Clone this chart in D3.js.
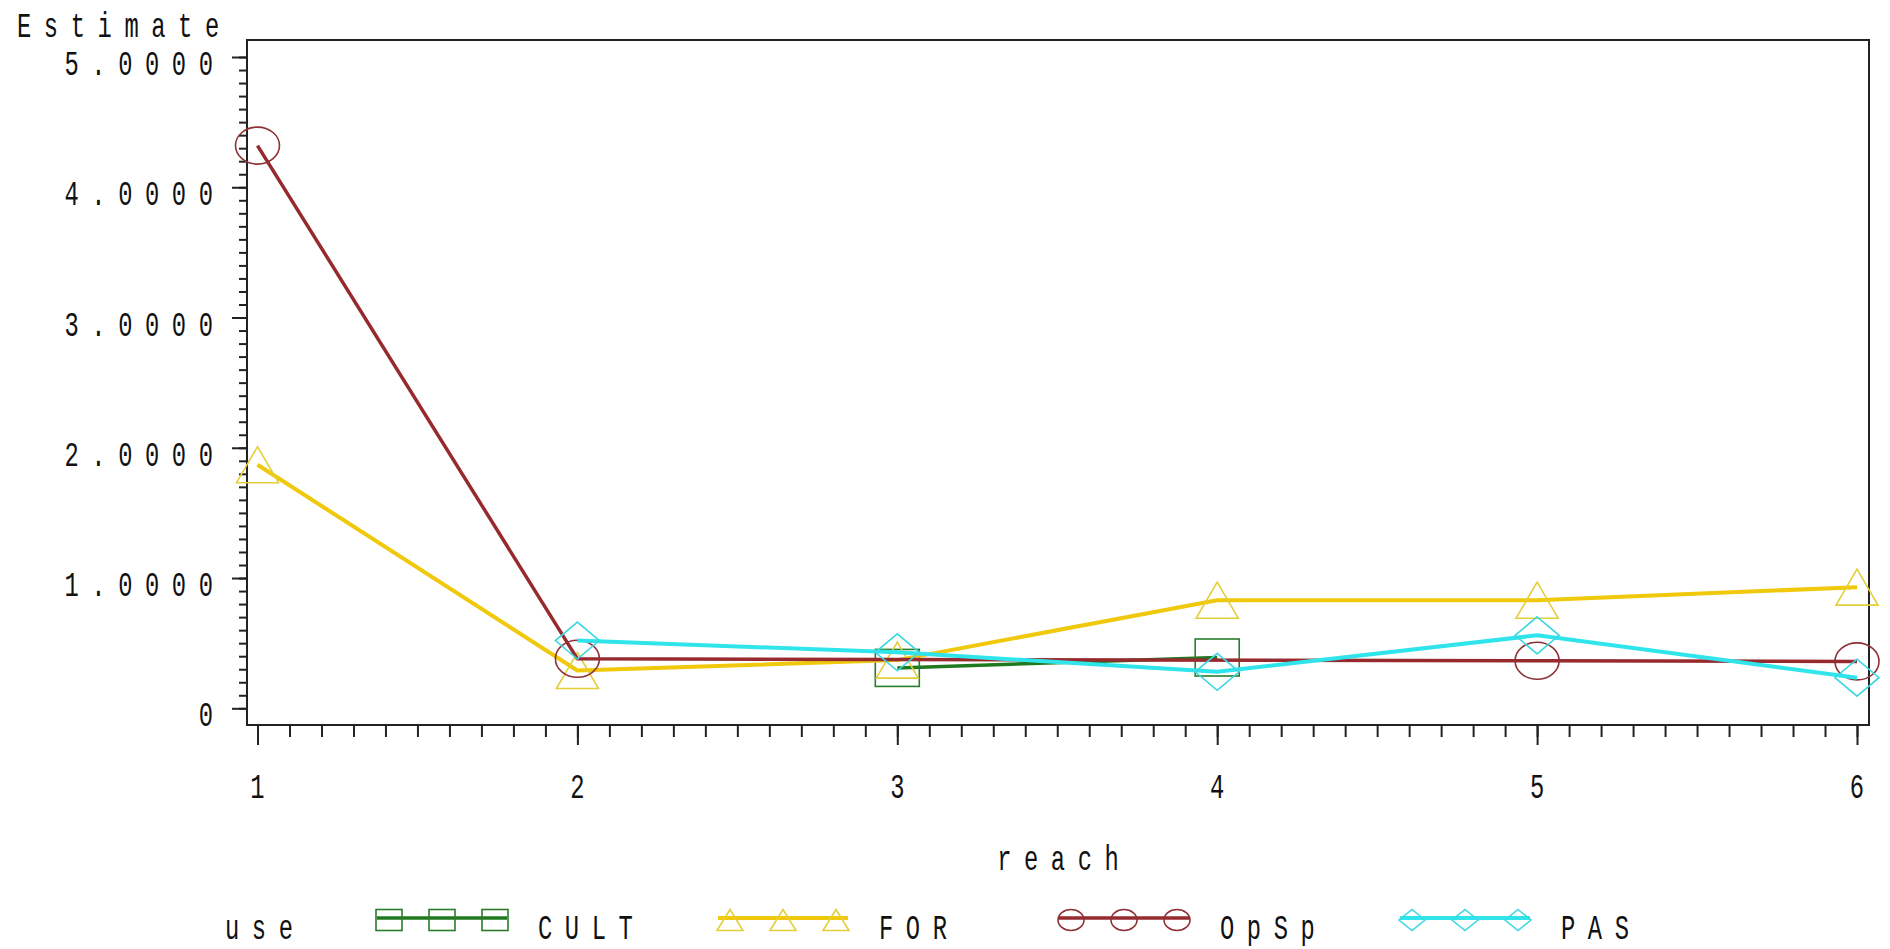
<!DOCTYPE html>
<html>
<head>
<meta charset="utf-8">
<script src="https://cdn.jsdelivr.net/npm/d3@7"></script>
<style>
  html, body { margin: 0; padding: 0; background: #fff; }
  svg { display: block; }
  .sas {
    font-family: "Liberation Mono", "DejaVu Sans Mono", monospace;
    font-size: 35px;
    fill: #111;
  }
</style>
</head>
<body>
<div id="chart"></div>
<script>
// DATA ///////////////////////////////////////////////////////////////////////
const reaches = [1, 2, 3, 4, 5, 6];
const useNames = ["CULT", "FOR", "OpSp", "PAS"];
const cultValues = [null, null, 0.31, 0.39, null, null];
const forValues  = [1.87, 0.29, 0.37, 0.83, 0.83, 0.93];
const opspValues = [4.32, 0.38, null, null, 0.365, 0.36];
const pasValues  = [null, 0.52, 0.43, 0.28, 0.56, 0.235];
const yTickValues = [0, 1, 2, 3, 4, 5];
const yTickLabels = ["0", "1.0000", "2.0000", "3.0000", "4.0000", "5.0000"];

(function() {
    const W = 1890, H = 949;
    const frame = {left: 247, right: 1869, top: 40, bottom: 725};

    const series = [
        {name: useNames[0], values: cultValues, color: "#1f7a1f", mark: "#2a7d2a", shape: "square",   lw: 3.5},
        {name: useNames[1], values: forValues,  color: "#f0c80c", mark: "#e2cf3a", shape: "triangle", lw: 4},
        {name: useNames[2], values: opspValues, color: "#962a2e", mark: "#8e3036", shape: "circle",   lw: 3.5},
        {name: useNames[3], values: pasValues,  color: "#30e4ec", mark: "#3bd8e2", shape: "diamond",  lw: 4}
    ];

    const svg = d3.select("#chart").append("svg")
        .attr("width", W)
        .attr("height", H);

    const x = d3.scaleLinear().domain([1, 6]).range([257.5, 1857]);
    const y = d3.scaleLinear().domain([0, 5]).range([708.3, 57]);

    // Narrow, widely spaced text, like the SAS hardware font
    const SX = 0.68, LS = 18.5;
    function sasText(x0, y0, str, anchor) {
        let dx = 0;
        if (anchor === "end") dx = LS * SX;
        else if (anchor === "middle") dx = LS * SX / 2;
        return svg.append("text")
            .attr("class", "sas")
            .attr("transform", `translate(${x0 + dx},${y0}) scale(${SX},1)`)
            .attr("text-anchor", anchor || "start")
            .style("letter-spacing", LS + "px")
            .text(str);
    }

    // Frame
    svg.append("rect")
        .attr("x", frame.left).attr("y", frame.top)
        .attr("width", frame.right - frame.left)
        .attr("height", frame.bottom - frame.top)
        .attr("fill", "none")
        .attr("stroke", "#222")
        .attr("stroke-width", 2);

    // Y axis ticks (major + minor)
    const yMinor = d3.range(0, 50.5, 1).map(function(d) { return d / 10; });
    svg.append("g")
        .attr("transform", `translate(${frame.left},0)`)
        .call(d3.axisLeft(y).tickValues(yMinor).tickSize(8).tickFormat(""))
        .call(g => g.select(".domain").remove())
        .call(g => g.selectAll("line").attr("stroke", "#222").attr("stroke-width", 2));
    svg.append("g")
        .attr("transform", `translate(${frame.left},0)`)
        .call(d3.axisLeft(y).tickValues(yTickValues).tickSize(15).tickFormat(""))
        .call(g => g.select(".domain").remove())
        .call(g => g.selectAll("line").attr("stroke", "#222").attr("stroke-width", 2));
    yTickValues.forEach(function(d, i) {
        sasText(213, y(d) + 18, yTickLabels[i], "end");
    });

    // X axis ticks (major + minor)
    const xMinor = d3.range(10, 60.5, 1).map(function(d) { return d / 10; });
    svg.append("g")
        .attr("transform", `translate(0,${frame.bottom})`)
        .call(d3.axisBottom(x).tickValues(xMinor).tickSize(12).tickFormat(""))
        .call(g => g.select(".domain").remove())
        .call(g => g.selectAll("line").attr("stroke", "#222").attr("stroke-width", 2));
    svg.append("g")
        .attr("transform", `translate(0,${frame.bottom})`)
        .call(d3.axisBottom(x).tickValues(reaches).tickSize(20).tickFormat(""))
        .call(g => g.select(".domain").remove())
        .call(g => g.selectAll("line").attr("stroke", "#222").attr("stroke-width", 2));
    reaches.forEach(function(d) {
        sasText(x(d), 798, String(d), "middle");
    });

    // Axis titles
    sasText(17, 37, "Estimate", "start");
    sasText((frame.left + frame.right) / 2, 870, "reach", "middle");

    // Marker drawing
    function marker(g, shape, cx, cy, w, h, color) {
        let m;
        if (shape === "square") {
            m = g.append("rect")
                .attr("x", cx - w / 2).attr("y", cy - h / 2)
                .attr("width", w).attr("height", h);
        } else if (shape === "circle") {
            m = g.append("ellipse")
                .attr("cx", cx).attr("cy", cy)
                .attr("rx", w / 2).attr("ry", h / 2);
        } else if (shape === "triangle") {
            m = g.append("path")
                .attr("d", `M${cx},${cy - h / 2}L${cx + w / 2},${cy + h / 2}L${cx - w / 2},${cy + h / 2}Z`);
        } else {
            m = g.append("path")
                .attr("d", `M${cx},${cy - h / 2}L${cx + w / 2},${cy}L${cx},${cy + h / 2}L${cx - w / 2},${cy}Z`);
        }
        m.attr("fill", "none")
            .attr("stroke", color)
            .attr("stroke-width", 1.6);
    }

    // Series lines and markers (missing values are skipped, line joins across)
    const line = d3.line()
        .x(function(d) { return x(d.reach); })
        .y(function(d) { return y(d.v); });

    series.forEach(function(s) {
        const pts = reaches
            .map(function(r, i) { return {reach: r, v: s.values[i]}; })
            .filter(function(d) { return d.v !== null; });
        const g = svg.append("g");
        g.append("path")
            .datum(pts)
            .attr("d", line)
            .attr("fill", "none")
            .attr("stroke", s.color)
            .attr("stroke-width", s.lw)
            .attr("stroke-linejoin", "round");
        pts.forEach(function(d) {
            const w = s.shape === "triangle" ? 42 : 44;
            const h = s.shape === "triangle" ? 36 : 37;
            marker(g, s.shape, x(d.reach), y(d.v), w, h, s.mark);
        });
    });

    // Legend
    const legY = 918;
    sasText(225, 939, "use", "start");
    series.forEach(function(s, i) {
        const x0 = 377 + i * 341;
        const g = svg.append("g");
        g.append("line")
            .attr("x1", x0).attr("x2", x0 + 130)
            .attr("y1", legY).attr("y2", legY)
            .attr("stroke", s.color)
            .attr("stroke-width", s.lw);
        [12, 65, 118].forEach(function(off) {
            marker(g, s.shape, x0 + off, legY + 2, 26, 21, s.mark);
        });
        sasText(x0 + 161, 939, s.name, "start");
    });
})();
</script>
</body>
</html>
